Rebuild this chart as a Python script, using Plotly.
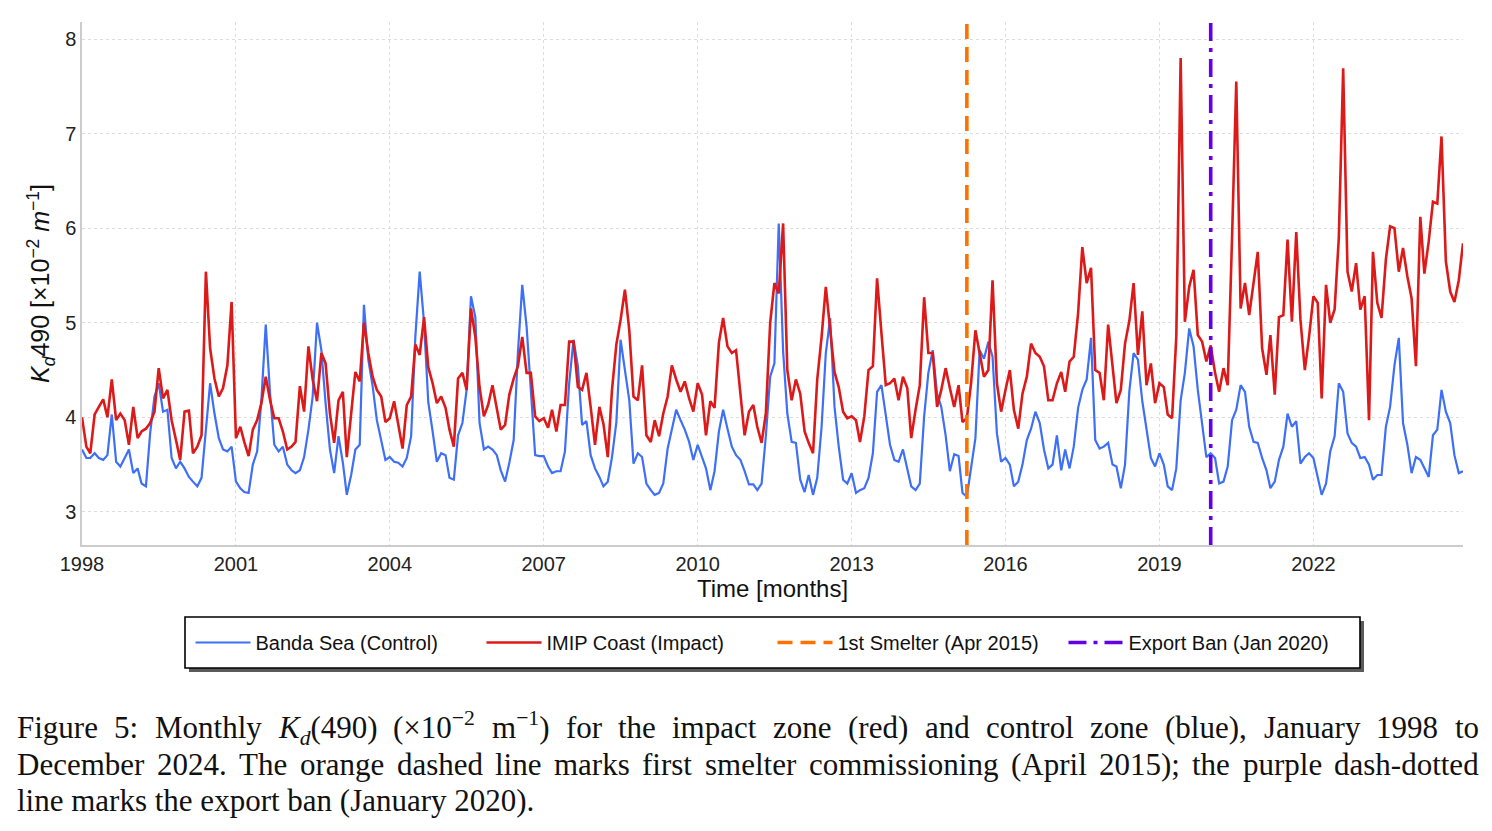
import re
import pandas as pd
import plotly.graph_objects as go

start_month = "1998-01-01"
n_months = 324

control_banda = [
    3.66, 3.57, 3.57, 3.62, 3.57, 3.55, 3.60, 4.03, 3.53, 3.48, 3.57, 3.66,
    3.41, 3.46, 3.30, 3.27, 3.83, 4.22, 4.36, 4.06, 4.08, 3.57, 3.46, 3.53,
    3.46, 3.37, 3.32, 3.27, 3.36, 3.83, 4.36, 4.04, 3.78, 3.66, 3.64, 3.69,
    3.32, 3.25, 3.21, 3.20, 3.50, 3.64, 4.18, 4.98, 4.25, 3.71, 3.64, 3.69,
    3.50, 3.44, 3.41, 3.44, 3.58, 3.87, 4.22, 5.00, 4.71, 4.15, 3.66, 3.41,
    3.80, 3.52, 3.18, 3.39, 3.66, 3.71, 5.19, 4.61, 4.33, 3.97, 3.74, 3.55,
    3.58, 3.53, 3.52, 3.48, 3.57, 3.80, 4.85, 5.54, 5.00, 4.16, 3.85, 3.53,
    3.62, 3.60, 3.36, 3.34, 3.81, 3.94, 4.29, 5.28, 5.06, 3.94, 3.66, 3.69,
    3.66, 3.60, 3.44, 3.32, 3.52, 3.76, 4.68, 5.40, 4.96, 4.29, 3.60, 3.59,
    3.59, 3.48, 3.41, 3.43, 3.43, 3.64, 4.36, 4.82, 4.54, 3.92, 3.96, 3.60,
    3.46, 3.37, 3.27, 3.32, 3.58, 3.95, 4.82, 4.50, 4.18, 3.51, 3.62, 3.58,
    3.30, 3.23, 3.18, 3.20, 3.30, 3.67, 3.87, 4.08, 3.97, 3.87, 3.74, 3.55,
    3.71, 3.57, 3.46, 3.23, 3.43, 3.85, 4.08, 3.88, 3.69, 3.60, 3.55, 3.43,
    3.29, 3.29, 3.23, 3.30, 3.80, 4.43, 4.57, 6.05, 4.70, 4.04, 3.74, 3.73,
    3.34, 3.21, 3.39, 3.18, 3.36, 3.90, 4.68, 5.05, 4.11, 3.69, 3.34, 3.30,
    3.41, 3.20, 3.23, 3.25, 3.36, 3.62, 4.27, 4.34, 4.04, 3.71, 3.55, 3.53,
    3.66, 3.44, 3.27, 3.23, 3.30, 4.01, 4.47, 4.71, 4.25, 4.11, 3.81, 3.43,
    3.61, 3.59, 3.20, 3.16, 3.48, 3.78, 4.71, 4.62, 4.80, 4.64, 3.83, 3.53,
    3.57, 3.50, 3.27, 3.32, 3.50, 3.76, 3.88, 4.06, 3.94, 3.66, 3.46, 3.50,
    3.81, 3.44, 3.66, 3.46, 3.69, 4.10, 4.29, 4.40, 4.84, 3.76, 3.67, 3.69,
    3.73, 3.50, 3.48, 3.25, 3.50, 4.28, 4.68, 4.61, 4.17, 3.85, 3.57, 3.48,
    3.62, 3.50, 3.27, 3.23, 3.46, 4.18, 4.47, 4.94, 4.75, 4.29, 3.94, 3.58,
    3.62, 3.57, 3.30, 3.32, 3.48, 3.97, 4.08, 4.34, 4.27, 3.90, 3.74, 3.73,
    3.57, 3.44, 3.25, 3.32, 3.55, 3.69, 4.04, 3.90, 3.96, 3.51, 3.58, 3.62,
    3.57, 3.37, 3.18, 3.30, 3.64, 3.80, 4.36, 4.27, 3.83, 3.73, 3.69, 3.57,
    3.58, 3.50, 3.34, 3.39, 3.39, 3.90, 4.11, 4.55, 4.84, 3.94, 3.71, 3.41,
    3.58, 3.55, 3.46, 3.37, 3.81, 3.87, 4.29, 4.06, 3.94, 3.60, 3.41, 3.43,
]

impact_imip = [
    4.00, 3.69, 3.62, 4.03, 4.11, 4.19, 4.00, 4.40, 3.97, 4.04, 3.97, 3.71,
    4.11, 3.78, 3.85, 3.88, 3.94, 4.06, 4.52, 4.20, 4.29, 3.97, 3.76, 3.55,
    4.06, 4.07, 3.62, 3.69, 3.81, 5.54, 4.73, 4.41, 4.22, 4.31, 4.55, 5.22,
    3.78, 3.90, 3.74, 3.59, 3.87, 3.97, 4.15, 4.43, 4.18, 3.99, 3.99, 3.85,
    3.66, 3.69, 3.74, 4.33, 4.06, 4.75, 4.40, 4.17, 4.68, 4.57, 4.04, 3.73,
    4.18, 4.27, 3.58, 4.01, 4.48, 4.38, 5.00, 4.68, 4.43, 4.29, 4.22, 3.95,
    3.99, 4.17, 3.94, 3.67, 4.13, 4.22, 4.77, 4.66, 5.06, 4.53, 4.36, 4.15,
    4.22, 4.10, 3.87, 3.69, 4.41, 4.47, 4.29, 5.15, 4.85, 4.32, 4.01, 4.13,
    4.34, 4.10, 3.87, 3.92, 4.24, 4.41, 4.54, 4.85, 4.47, 4.47, 4.01, 3.96,
    3.99, 3.89, 4.08, 3.85, 4.13, 4.13, 4.80, 4.80, 4.32, 4.29, 4.47, 4.11,
    3.71, 4.11, 3.93, 3.58, 4.29, 4.77, 5.03, 5.35, 4.92, 4.22, 4.18, 4.55,
    3.81, 3.74, 3.97, 3.80, 4.04, 4.22, 4.55, 4.40, 4.27, 4.38, 4.20, 4.06,
    4.36, 4.24, 3.81, 4.17, 4.10, 4.79, 5.05, 4.75, 4.68, 4.71, 4.25, 3.81,
    4.06, 4.13, 3.90, 3.73, 4.04, 5.00, 5.42, 5.31, 6.05, 4.50, 4.18, 4.40,
    4.25, 3.85, 3.73, 3.62, 4.40, 4.85, 5.38, 4.89, 4.48, 4.32, 4.06, 3.99,
    4.01, 3.97, 3.74, 4.01, 4.50, 4.54, 5.47, 4.89, 4.34, 4.36, 4.41, 4.18,
    4.43, 4.31, 3.78, 4.08, 4.34, 5.27, 4.68, 4.68, 4.11, 4.29, 4.52, 4.31,
    4.11, 4.34, 3.95, 3.99, 4.36, 4.92, 4.68, 4.43, 4.50, 5.45, 4.36, 4.06,
    4.29, 4.50, 4.08, 3.88, 4.25, 4.43, 4.78, 4.68, 4.64, 4.54, 4.18, 4.18,
    4.36, 4.48, 4.27, 4.59, 4.64, 5.10, 5.80, 5.42, 5.58, 4.50, 4.47, 4.18,
    4.98, 4.50, 4.15, 4.29, 4.78, 5.02, 5.42, 4.66, 5.12, 4.34, 4.57, 4.15,
    4.36, 4.32, 4.03, 3.99, 4.85, 7.80, 5.01, 5.38, 5.56, 4.87, 4.80, 4.59,
    4.76, 4.47, 4.27, 4.52, 4.34, 5.90, 7.55, 5.15, 5.42, 5.08, 5.42, 5.75,
    4.73, 4.45, 4.87, 4.24, 5.06, 5.08, 5.88, 5.01, 5.96, 5.03, 4.50, 4.85,
    5.28, 5.21, 4.20, 5.40, 5.00, 5.14, 5.90, 7.69, 5.54, 5.33, 5.63, 5.14,
    5.28, 3.97, 5.75, 5.21, 5.05, 5.67, 6.02, 6.00, 5.54, 5.79, 5.49, 5.26,
    4.54, 6.12, 5.52, 5.86, 6.28, 6.26, 6.97, 5.65, 5.33, 5.22, 5.45, 5.84,
]

event_dates = ["2015-04-01", "2020-01-01"]
event_names = ["1st Smelter (Apr 2015)", "Export Ban (Jan 2020)"]
series_names = ["Banda Sea (Control)", "IMIP Coast (Impact)"]
x_tick_years = [1998, 2001, 2004, 2007, 2010, 2013, 2016, 2019, 2022]
y_tick_values = [3, 4, 5, 6, 7, 8]

caption_line1 = ["Figure", "5:", "Monthly", "<i>K<sub>d</sub></i>(490)",
                 "(×10<sup>−2</sup>", "m<sup>−1</sup>)", "for", "the", "impact",
                 "zone", "(red)", "and", "control", "zone", "(blue),", "January",
                 "1998", "to"]
caption_line2 = ["December", "2024.", "The", "orange", "dashed", "line", "marks",
                 "first", "smelter", "commissioning", "(April", "2015);", "the",
                 "purple", "dash-dotted"]
caption_line3 = "line marks the export ban (January 2020)."

# geometry (px) of plot area in the 1492x831 page
PL, PR, PT, PB = 82, 1463, 22, 545
PW, PH = PR - PL, PB - PT
CAP_LEFT, CAP_RIGHT = 15, 1477
CAP_Y = [728, 764, 800]
CAP_SIZE = 31


def px_x(x):
    return (x - PL) / PW


def px_y(y):
    return (PB - y) / PH


# Times-compatible advance widths (Liberation Serif), per 1000 em
_W = {" ": 250, "(": 333, ")": 333, ",": 250, "-": 333, ".": 250, ":": 278, ";": 278,
      "×": 564, "−": 564,
      "A": 722, "D": 722, "F": 556, "J": 389, "K": 667, "M": 889, "T": 611,
      "a": 444, "b": 500, "c": 444, "d": 500, "e": 444, "f": 333, "g": 500, "h": 500,
      "i": 278, "k": 500, "l": 278, "m": 778, "n": 500, "o": 500, "p": 500, "r": 333,
      "s": 389, "t": 278, "u": 500, "x": 500, "y": 500, "z": 444}
for _c in "0123456789":
    _W[_c] = 500


def text_width(s, size):
    total = 0.0
    scale = 1.0
    for tok in re.split(r"(<[^>]+>)", s):
        if tok.startswith("<"):
            if tok in ("<sup>", "<sub>"):
                scale = 0.7
            elif tok in ("</sup>", "</sub>"):
                scale = 1.0
            continue
        for ch in tok:
            total += _W.get(ch, 500) * scale
    return total * size / 1000.0


months = pd.date_range(start_month, periods=n_months, freq="MS")

fig = go.Figure()
fig.add_trace(go.Scatter(
    x=months, y=control_banda, mode="lines", name=series_names[0],
    line=dict(color="#3d6ff7", width=2.2), legendrank=1,
))
fig.add_trace(go.Scatter(
    x=months, y=impact_imip, mode="lines", name=series_names[1],
    line=dict(color="#dc1a1a", width=2.6), legendrank=2,
))

event_styles = [
    dict(color="#ff7200", width=3.6, dash="15px,8px"),
    dict(color="#6300ea", width=3.6, dash="18px,7px,4px,7px"),
]
for d, nm, st, rk in zip(event_dates, event_names, event_styles, [3, 4]):
    fig.add_shape(
        type="line", xref="x", yref="paper", x0=d, x1=d, y0=0, y1=1,
        line=st, layer="above", showlegend=True, name=nm, legendrank=rk,
    )

# legend frame with shadow (drawn as shapes, legend itself is transparent)
fig.add_shape(type="rect", xref="paper", yref="paper",
              x0=px_x(189), x1=px_x(1364), y0=px_y(621), y1=px_y(672),
              line=dict(width=0), fillcolor="#5a5a5a", layer="above")
fig.add_shape(type="rect", xref="paper", yref="paper",
              x0=px_x(185), x1=px_x(1360), y0=px_y(617), y1=px_y(668),
              line=dict(width=1.6, color="#000000"), fillcolor="white", layer="above")

tick_font = dict(family="Liberation Sans, Arial, sans-serif", size=20, color="#222222")
title_font = dict(family="Liberation Sans, Arial, sans-serif", size=24, color="#111111")

fig.update_xaxes(
    range=[months[0], months[-1]],
    tickvals=[pd.Timestamp(f"{y}-01-01") for y in x_tick_years],
    ticktext=[str(y) for y in x_tick_years],
    showgrid=True, gridcolor="#dddddd", griddash="dot", gridwidth=1,
    showline=True, linecolor="#cccccc", linewidth=1.5,
    ticks="", tickfont=tick_font, zeroline=False,
    title=dict(text="Time [months]", standoff=5, font=title_font),
)
fig.update_yaxes(
    range=[2.65, 8.18], tickvals=y_tick_values,
    showgrid=True, gridcolor="#dddddd", griddash="dot", gridwidth=1,
    showline=True, linecolor="#cccccc", linewidth=1.5,
    ticks="", tickfont=tick_font, zeroline=False,
    title=dict(text="<i>K<sub>d</sub></i>490 [×10<sup>−2</sup> <i>m</i><sup>−1</sup>]",
               standoff=8, font=dict(family="Liberation Sans, Arial, sans-serif",
                                      size=25, color="#111111")),
)

cap_font = dict(family="Liberation Serif, Times New Roman, serif", size=CAP_SIZE, color="#111111")
GHOST = "<span style='color:rgba(0,0,0,0)'><sup>.</sup><sub>.</sub></span>"


def add_justified(words, yc, ghost):
    widths = [text_width(w, CAP_SIZE) for w in words]
    gap = (CAP_RIGHT - CAP_LEFT - sum(widths)) / (len(words) - 1)
    x = CAP_LEFT
    for w, wd in zip(words, widths):
        fig.add_annotation(
            text=w + (GHOST if ghost else ""), xref="paper", yref="paper",
            x=px_x(x), y=px_y(yc), xanchor="left", yanchor="middle",
            showarrow=False, font=cap_font,
        )
        x += wd + gap


add_justified(caption_line1, CAP_Y[0], ghost=True)
add_justified(caption_line2, CAP_Y[1], ghost=False)
fig.add_annotation(
    text=caption_line3, xref="paper", yref="paper",
    x=px_x(CAP_LEFT), y=px_y(CAP_Y[2]),
    xanchor="left", yanchor="middle", showarrow=False, font=cap_font,
)

fig.update_layout(
    width=1492, height=831,
    margin=dict(l=PL, r=1492 - PR, t=PT, b=831 - PB),
    plot_bgcolor="white", paper_bgcolor="white",
    showlegend=True,
    legend=dict(
        orientation="h", x=px_x(772.5), xanchor="center", y=px_y(642.5), yanchor="middle",
        borderwidth=0, bgcolor="rgba(0,0,0,0)",
        font=dict(family="Liberation Sans, Arial, sans-serif", size=20, color="#111111"),
        itemwidth=55, entrywidth=221, entrywidthmode="pixels",
    ),
)

fig.write_html("out.html")
